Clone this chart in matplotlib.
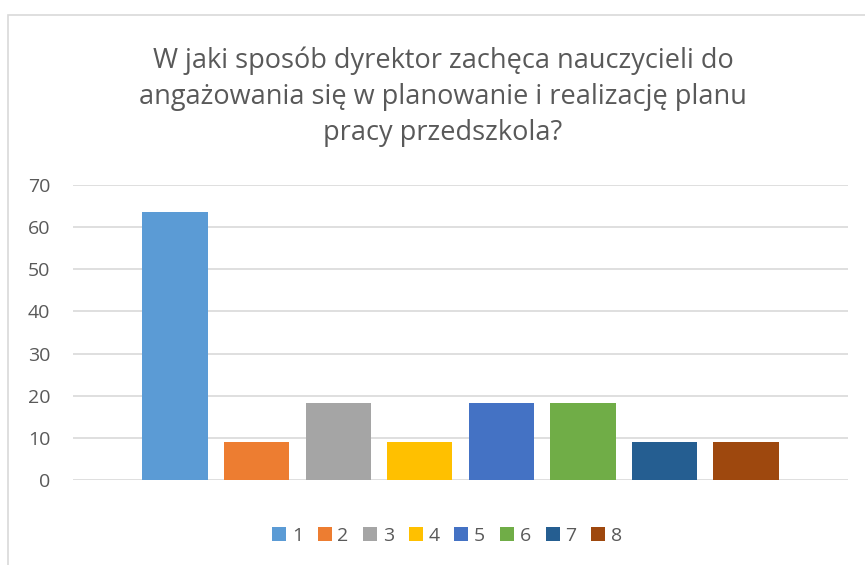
import numpy as np
import matplotlib
matplotlib.use("Agg")
import matplotlib.pyplot as plt
from matplotlib.patches import Rectangle, Patch

# data
series = ["1", "2", "3", "4", "5", "6", "7", "8"]
values = [63.6, 9.1, 18.2, 9.1, 18.2, 18.2, 9.1, 9.1]
colors = ["#5B9BD5", "#ED7D31", "#A5A5A5", "#FFC000",
          "#4472C4", "#70AD47", "#255E91", "#9E480E"]
title = ("W jaki sposób dyrektor zachęca nauczycieli do\n"
         "angażowania się w planowanie i realizację planu\n"
         "pracy przedszkola?")
yticks = [0, 10, 20, 30, 40, 50, 60, 70]

plt.rcParams['font.family'] = ['Open Sans', 'DejaVu Sans']
txt = "#595959"
grid = "#D9D9D9"

W, H = 865, 565
fig = plt.figure(figsize=(W / 100, H / 100), dpi=100)
fig.patches.append(Rectangle((8 / W, -0.1), 1.2, 1.1 - 15 / H + 0.0,
                             transform=fig.transFigure, fill=False,
                             edgecolor=grid, lw=1.2, zorder=0))

ax = fig.add_axes([73 / W, 1 - 480 / H, (848 - 73) / W, (480 - 185) / H])
x = np.arange(len(series))
ax.bar(x, values, width=0.8, color=colors, zorder=3)
ax.set_xlim(3.5 - 4.75, 3.5 + 4.75)
ax.set_ylim(0, 70)
ax.set_yticks(yticks)
ax.set_xticks([])
ax.yaxis.grid(True, color=grid, lw=1.2, zorder=0)
for s in ax.spines.values():
    s.set_visible(False)
ax.tick_params(axis='y', length=0, pad=16.5, labelsize=14, labelcolor=txt)

fig.text(443 / W, 1 - 97 / H, title, ha='center', va='center', fontsize=19.5,
         color=txt, linespacing=1.38)

handles = [Patch(facecolor=c, edgecolor='none') for c in colors]
fig.legend(handles, series, loc='center', bbox_to_anchor=(447 / W, 1 - 536 / H),
           ncol=8, frameon=False, fontsize=14, labelcolor=txt,
           handlelength=0.72, handleheight=0.72, handletextpad=0.3,
           columnspacing=0.75)

fig.savefig("out.png", dpi=100)
